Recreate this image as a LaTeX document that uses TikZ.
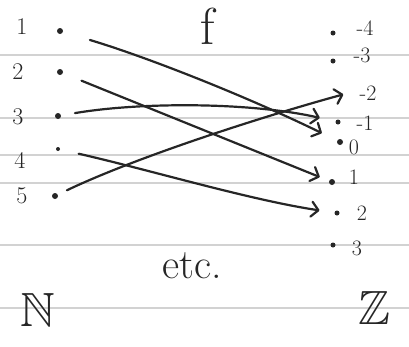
\documentclass[tikz,border=0pt]{standalone}
\usepackage{amssymb}
\usetikzlibrary{arrows.meta}
\definecolor{ink}{HTML}{262626}
\definecolor{rulegray}{HTML}{D2D2D2}
\begin{document}
\begin{tikzpicture}[x=1pt,y=-1pt,
  dotn/.style={circle,fill=ink,inner sep=0pt,minimum size=6pt},
  lab/.style={inner sep=0pt,text=ink,font=\fontsize{24}{28}\selectfont},
  zlab/.style={inner sep=0pt,text=ink,font=\fontsize{22}{26}\selectfont},
  big/.style={inner sep=0pt,text=ink,font=\fontsize{48}{52}\selectfont},
  rulel/.style={draw=rulegray,line width=1.6pt},
  map/.style={draw=ink,line width=2.2pt,line cap=round,
    -{Straight Barb[length=7pt,width=15pt,line width=2.2pt,round]}}]
\useasboundingbox (0,0) rectangle (409,346);
\fill[white] (0,0) rectangle (409,346);
% ruled paper
\foreach \yy in {55,118,155,183,245,308}
  \draw[rulel] (0,\yy) -- (409,\yy);
% domain
\node[lab] (l1) at (22,27) {1};
\node[lab] (l2) at (18,72) {2};
\node[lab] (l3) at (18,117) {3};
\node[lab] (l4) at (20,160) {4};
\node[lab] (l5) at (22,196) {5};
\node[dotn] (n1) at (60,31) {};
\node[dotn] (n2) at (60,72) {};
\node[dotn] (n3) at (58,116) {};
\node[dotn,minimum size=4pt] (n4) at (58,149) {};
\node[dotn] (n5) at (55,196) {};
% codomain
\node[dotn,minimum size=5pt] (zm4) at (333,33) {};
\node[dotn,minimum size=5pt] (zm3) at (333,61) {};
\coordinate (zm2) at (352,92);
\node[dotn,minimum size=5pt] (zm1) at (338,122) {};
\node[dotn] (z0) at (340,142) {};
\node[dotn] (z1) at (332,182) {};
\node[dotn,minimum size=5pt] (z2) at (337,213) {};
\node[dotn,minimum size=5pt] (z3) at (333,245) {};
\node[zlab] (tm4) at (365,28) {-4};
\node[zlab] (tm3) at (362,55) {-3};
\node[zlab] (tm2) at (368,93) {-2};
\node[zlab] (tm1) at (365,123) {-1};
\node[zlab] (t0) at (354,147) {0};
\node[zlab] (t1) at (354,177) {1};
\node[zlab] (t2) at (362,213) {2};
\node[zlab] (t3) at (357,248) {3};
% titles
\node[inner sep=0pt,text=ink,font=\fontsize{52}{56}\selectfont] (f) at (208,26) {f};
\node[inner sep=0pt,text=ink,font=\fontsize{42}{46}\selectfont] (etc) at (192,266) {etc.};
\node[big] (N) at (38,310) {$\mathbb{N}$};
\node[big] (Z) at (374,308) {$\mathbb{Z}$};
% mapping arrows
\draw[map,shorten <=28pt,shorten >=17pt] (n1) .. controls (150,58) and (250,98) .. (z0);
\draw[map,shorten <=20pt,shorten >=10pt] (n2) -- (z1);
\draw[map,shorten <=14pt,shorten >=16pt] (n3) .. controls (140,102) and (250,102) .. (zm1);
\draw[map,shorten <=19pt,shorten >=15pt] (n4) .. controls (150,170) and (250,200) .. (z2);
\draw[map,shorten <=10pt,shorten >=9pt] (n5) .. controls (130,160) and (250,120) .. (zm2);
\end{tikzpicture}
\end{document}
